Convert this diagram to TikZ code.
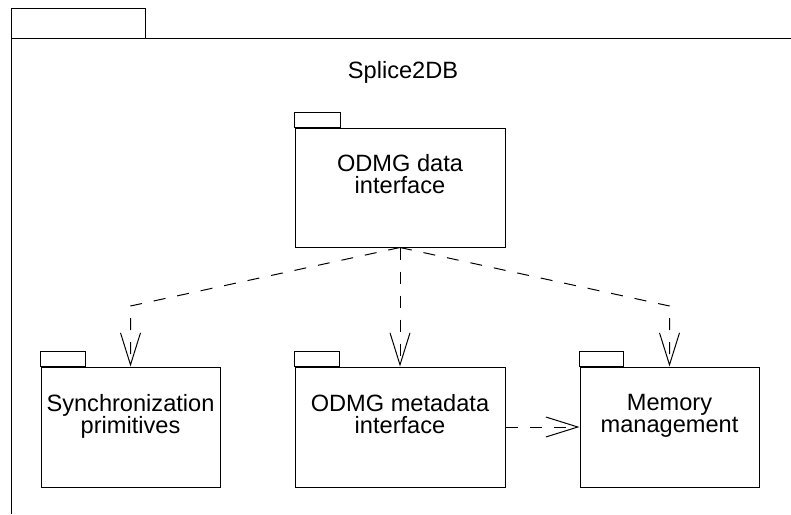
\documentclass[tikz,border=0pt]{standalone}
\usepackage{fontspec}
\setmainfont{Liberation Sans}
\usetikzlibrary{arrows.meta}
\begin{document}
\begin{tikzpicture}[x=1pt,y=-1pt,
  pkgbody/.style={draw, line width=1pt, inner sep=0pt},
  pkgtab/.style={draw, line width=1pt},
  pkgtext/.style={anchor=north, align=center, inner sep=0pt, font=\fontsize{23.6}{22}\selectfont},
  dep/.style={line width=1pt, dash pattern=on 12pt off 12pt, -{Straight Barb[length=32pt,width=20pt,line width=1pt]}},
  frameline/.style={line width=1pt}]
\useasboundingbox (0,0) rectangle (791,514);
% outer package frame
\draw[frameline] (11,8) rectangle (145,38);
\draw[frameline] (11,514) -- (11,38) -- (791,38);
\node[pkgtext] (title) at (403,61) {Splice2DB};
% packages
\node[pkgbody, minimum width=210pt, minimum height=119pt] (data) at (400,187.5) {};
\node[pkgbody, minimum width=179pt, minimum height=120pt] (sync) at (130.5,427) {};
\node[pkgbody, minimum width=210pt, minimum height=120pt] (meta) at (400,427) {};
\node[pkgbody, minimum width=179pt, minimum height=120pt] (mem) at (669.5,427) {};
% tabs
\draw[pkgtab] (data.north west) rectangle ++(46,-15);
\draw[pkgtab] (sync.north west) rectangle ++(45,-15);
\draw[pkgtab] (meta.north west) rectangle ++(45,-15);
\draw[pkgtab] (mem.north west) rectangle ++(44,-15);
% labels
\node[pkgtext] (datal) at ([yshift=-27pt]data.north) {ODMG data\\interface};
\node[pkgtext] (syncl) at ([yshift=-28pt]sync.north) {Synchronization\\primitives};
\node[pkgtext] (metal) at ([yshift=-28pt]meta.north) {ODMG metadata\\interface};
\node[pkgtext] (meml) at ([yshift=-28pt]mem.north) {Memory\\management};
% dependencies
\coordinate (b1) at (sync.north |- 0,306);
\coordinate (b2) at (mem.north |- 0,306);
\draw[dep] (data.south) -- (b1) -- (sync.north);
\draw[dep] (data.south) -- (meta.north);
\draw[dep] (data.south) -- (b2) -- (mem.north);
\draw[dep] (meta.east) -- (mem.west);
\end{tikzpicture}
\end{document}
